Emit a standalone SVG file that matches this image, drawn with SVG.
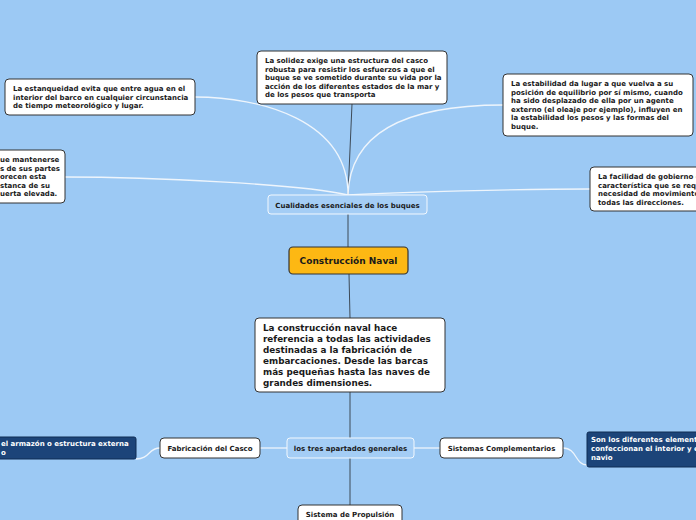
<svg xmlns="http://www.w3.org/2000/svg" width="696" height="520" viewBox="0 0 696 520">
<style>
text{font-family:"DejaVu Sans",Verdana,sans-serif;font-weight:bold;fill:#1a1a1a}
.s{font-size:7px}
.b{fill:#fff;stroke:#333;stroke-width:1}
.t{fill:#a4cdf5;stroke:#f2f8fe;stroke-width:1}
.d{fill:#1c4479;stroke:#0f2c55;stroke-width:1}
.w{fill:#fff}
.lw{fill:none;stroke:#eef5fc;stroke-width:1.3}
.ld{fill:none;stroke:#3d4a57;stroke-width:1}
</style>
<rect width="696" height="520" fill="#9cc9f4"/>
<g id="connectors">
<path class="ld" d="M352,104 L348,195"/>
<path class="lw" d="M348,195 C348,120 260,97 195,97"/>
<path class="lw" d="M348,195 C350,125 420,105 503,105"/>
<path class="lw" d="M348,195 C300,184 150,177 65,177"/>
<path class="lw" d="M348,195 C400,192 520,189 590,189"/>
<path class="ld" d="M348,214 L348,247"/>
<path class="ld" d="M349,274 L350,318"/>
<path class="ld" d="M350,392 L350,438"/>
<path class="ld" d="M350,458 L350,505"/>
<path class="lw" d="M287,448 L260,448"/>
<path class="lw" d="M414,448 L440,448"/>
<path class="lw" d="M160,448 C148,448 150,459 136,459"/>
<path class="lw" d="M563,448 C577,448 575,465 587,465"/>
</g>
<g id="n-estanqueidad">
<rect class="b" x="5" y="79" width="190" height="36" rx="4"/>
<text class="s" x="13" y="91">La estanqueidad evita que entre agua en el</text>
<text class="s" x="13" y="99.5">interior del barco en cualquier circunstancia</text>
<text class="s" x="13" y="108">de tiempo meteorológico y lugar.</text>
</g>
<g id="n-mantenerse">
<rect class="b" x="-10" y="150" width="75" height="53" rx="4"/>
<text class="s" x="0" y="162">ue mantenerse</text>
<text class="s" x="0" y="170.5">s de sus partes</text>
<text class="s" x="0" y="179">orecen esta</text>
<text class="s" x="0" y="187.5">stanca de su</text>
<text class="s" x="0" y="196">uerta elevada.</text>
</g>
<g id="n-solidez">
<rect class="b" x="257" y="51" width="190" height="53" rx="4"/>
<text class="s" x="265" y="63">La solidez exige una estructura del casco</text>
<text class="s" x="265" y="71.5">robusta para resistir los esfuerzos a que el</text>
<text class="s" x="265" y="80">buque se ve sometido durante su vida por la</text>
<text class="s" x="265" y="88.5">acción de los diferentes estados de la mar y</text>
<text class="s" x="265" y="97">de los pesos que transporta</text>
</g>
<g id="n-estabilidad">
<rect class="b" x="503" y="74" width="190" height="62" rx="4"/>
<text class="s" x="511" y="86">La estabilidad da lugar a que vuelva a su</text>
<text class="s" x="511" y="94.5">posición de equilibrio por sí mismo, cuando</text>
<text class="s" x="511" y="103">ha sido desplazado de ella por un agente</text>
<text class="s" x="511" y="111.5">externo (el oleaje por ejemplo), influyen en</text>
<text class="s" x="511" y="120">la estabilidad los pesos y las formas del</text>
<text class="s" x="511" y="128.5">buque.</text>
</g>
<g id="n-facilidad">
<rect class="b" x="590" y="167" width="120" height="44" rx="4"/>
<text class="s" x="598" y="179">La facilidad de gobierno es</text>
<text class="s" x="598" y="187.5">característica que se requiere</text>
<text class="s" x="598" y="196">necesidad de movimientos en</text>
<text class="s" x="598" y="204.5">todas las direcciones.</text>
</g>
<g id="n-cualidades">
<rect class="t" x="268" y="195" width="159" height="19" rx="3"/>
<text class="s" x="347.5" y="207.5" text-anchor="middle">Cualidades esenciales de los buques</text>
</g>
<g id="n-construccion">
<rect x="289" y="247" width="119" height="27" rx="4" fill="#fdb813" stroke="#333" stroke-width="1.2"/>
<text x="348.5" y="264" text-anchor="middle" font-size="9">Construcción Naval</text>
</g>
<g id="n-definicion">
<rect class="b" x="255" y="318" width="190" height="74" rx="4"/>
<text x="263" y="331" font-size="8.8">La construcción naval hace</text>
<text x="263" y="342" font-size="8.8">referencia a todas las actividades</text>
<text x="263" y="353" font-size="8.8">destinadas a la fabricación de</text>
<text x="263" y="364" font-size="8.8">embarcaciones. Desde las barcas</text>
<text x="263" y="375" font-size="8.8">más pequeñas hasta las naves de</text>
<text x="263" y="386" font-size="8.8">grandes dimensiones.</text>
</g>
<g id="n-apartados">
<rect class="t" x="287" y="438" width="127" height="20" rx="3"/>
<text class="s" x="350.5" y="451" text-anchor="middle">los tres apartados generales</text>
</g>
<g id="n-fabricacion">
<rect class="b" x="160" y="438" width="100" height="20" rx="4"/>
<text class="s" x="210" y="451" text-anchor="middle">Fabricación del Casco</text>
</g>
<g id="n-sistemas">
<rect class="b" x="440" y="438" width="123" height="20" rx="4"/>
<text class="s" x="501.5" y="451" text-anchor="middle">Sistemas Complementarios</text>
</g>
<g id="n-propulsion">
<rect class="b" x="298" y="505" width="104" height="22" rx="4"/>
<text class="s" x="350" y="517" text-anchor="middle">Sistema de Propulsión</text>
</g>
<g id="n-armazon">
<rect class="d" x="-10" y="437" width="146" height="22" rx="2"/>
<text class="s w" x="1" y="446">el armazón o estructura externa</text>
<text class="s w" x="1" y="455">o</text>
</g>
<g id="n-elementos">
<rect class="d" x="587" y="432" width="120" height="35" rx="2"/>
<text class="s w" x="591" y="442">Son los diferentes elementos</text>
<text class="s w" x="591" y="451">confeccionan el interior y el</text>
<text class="s w" x="591" y="460">navio</text>
</g>
</svg>
